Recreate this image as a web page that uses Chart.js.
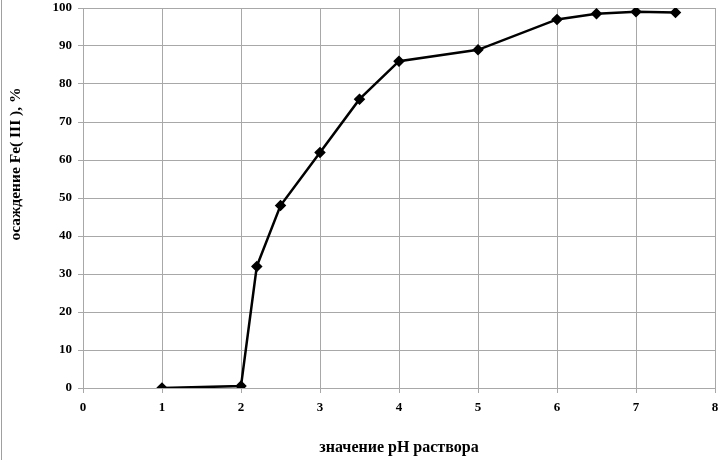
<!DOCTYPE html>
<html>
<head>
<meta charset="utf-8">
<script src="https://cdn.jsdelivr.net/npm/chart.js@4"></script>
<style>
  html, body { margin: 0; padding: 0; background: #fff; }
  #wrap { width: 724px; height: 460px; }
</style>
</head>
<body>
<div id="wrap"><canvas id="mycanvas" width="724" height="460"></canvas></div>
<script>
// pH of the solution vs Fe(III) precipitation, %
var phValues = [1, 2, 2.2, 2.5, 3, 3.5, 4, 5, 6, 6.5, 7, 7.5];
var precipitation = [0, 0.5, 32, 48, 62, 76, 86, 89, 97, 98.5, 99, 98.8];

var xTitle = 'значение pH раствора';
var yTitle = 'осаждение Fe( III ), %';

var points = [];
for (var i in phValues) {
	points.push({ x: phValues[i], y: precipitation[i] });
}

var tickFont = { family: 'Liberation Serif', size: 13, weight: 'bold' };

// grey frame line on the left edge + y title (sits above centre in the original)
var extras = {
	id: 'extras',
	afterDraw: function(chart) {
		var c = chart.ctx;
		c.save();
		c.strokeStyle = '#a0a0a0';
		c.lineWidth = 1;
		c.beginPath();
		c.moveTo(1.5, 0);
		c.lineTo(1.5, chart.height);
		c.stroke();

		c.translate(16, 164);
		c.rotate(-Math.PI / 2);
		c.fillStyle = '#000';
		c.font = 'bold 15.5px "Liberation Serif"';
		c.textAlign = 'center';
		c.textBaseline = 'middle';
		c.fillText(yTitle, 0, 0);
		c.restore();
	}
};

Chart.defaults.color = '#000';

var ctx = document.getElementById('mycanvas');
var chart = new Chart(ctx, {
	type: 'scatter',
	data: {
		datasets: [{
			data: points,
			showLine: true,
			borderColor: '#000',
			backgroundColor: '#000',
			borderWidth: 2.5,
			pointStyle: 'rectRot',
			pointRadius: 4,
			tension: 0
		}]
	},
	options: {
		responsive: false,
		animation: false,
		layout: { padding: { top: 8, right: 9, left: 0, bottom: 0 } },
		plugins: { legend: { display: false }, tooltip: { enabled: false } },
		scales: {
			x: {
				type: 'linear',
				min: 0,
				max: 8,
				ticks: { stepSize: 1, font: tickFont, padding: 7 },
				grid: { color: '#a8a8a8', lineWidth: 1, tickLength: 5 },
				border: { color: '#a8a8a8' },
				title: {
					display: true,
					text: xTitle,
					font: { family: 'Liberation Serif', size: 16, weight: 'bold' },
					padding: { top: 0, bottom: 3 }
				},
				afterFit: function(scale) {
					scale.height = 72;
					scale.paddingRight = 0;
					scale.paddingLeft = 0;
				}
			},
			y: {
				min: 0,
				max: 100,
				ticks: { stepSize: 10, font: tickFont, padding: 6 },
				grid: { color: '#a8a8a8', lineWidth: 1, tickLength: 5 },
				border: { color: '#a8a8a8' },
				afterFit: function(scale) {
					scale.width = 83;
					scale.paddingTop = 0;
					scale.paddingBottom = 0;
				}
			}
		}
	},
	plugins: [extras]
});
</script>
</body>
</html>
